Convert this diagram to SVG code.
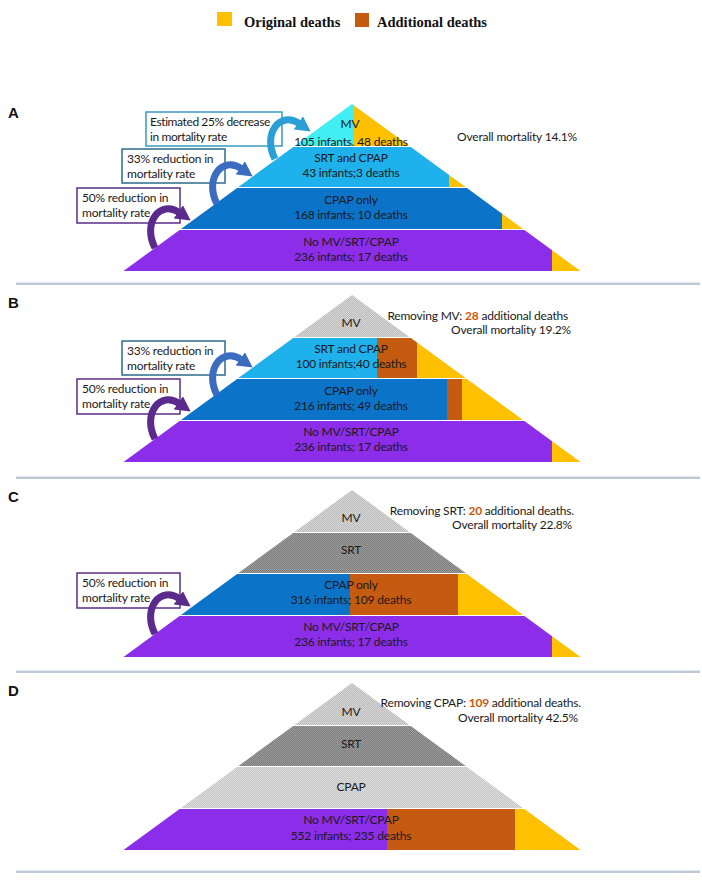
<svg xmlns="http://www.w3.org/2000/svg" width="702" height="880" viewBox="0 0 702 880">
<style>
.t{font-family:Lato,"Open Sans","DejaVu Sans",sans-serif;font-size:12px;fill:#1a1a1a;letter-spacing:-0.2px}
.c{text-anchor:middle}
.e{text-anchor:end}
.n{fill:#C65911;font-weight:bold}
.lg{font-family:"Liberation Serif","Times New Roman",serif;font-weight:bold;font-size:14.5px;fill:#111}
.pl{font-family:"Liberation Sans",Arial,sans-serif;font-weight:bold;font-size:15px;fill:#111}
.box{fill:#fff;stroke-width:1.5}
.div{stroke:#A9B6C8;stroke-width:1.5}
.divs{stroke:#E6EBF2;stroke-width:1.5}
.arr{fill:none;stroke-width:7;stroke-linecap:butt}
</style>
<defs>
<clipPath id="c1"><polygon points="352,104 409.5,146 294.5,146"/></clipPath>
<clipPath id="c2"><polygon points="293.2,147 410.8,147 465.6,187 238.4,187"/></clipPath>
<clipPath id="c3"><polygon points="237.1,188 466.9,188 523,229 181,229"/></clipPath>
<clipPath id="c4"><polygon points="179.6,230 524.4,230 580.5,271 123.5,271"/></clipPath>
<pattern id="gl" width="2" height="2" patternUnits="userSpaceOnUse"><rect width="2" height="2" fill="#D9D9D9"/><rect width="1" height="1" fill="#B9B9B9"/><rect x="1" y="1" width="1" height="1" fill="#B9B9B9"/></pattern>
<pattern id="gd" width="2" height="2" patternUnits="userSpaceOnUse"><rect width="2" height="2" fill="#9C9C9C"/><rect width="1" height="1" fill="#7C7C7C"/><rect x="1" y="1" width="1" height="1" fill="#7C7C7C"/></pattern>
<pattern id="gm" width="2" height="2" patternUnits="userSpaceOnUse"><rect width="2" height="2" fill="#DEDEDE"/><rect width="1" height="1" fill="#C4C4C4"/><rect x="1" y="1" width="1" height="1" fill="#C4C4C4"/></pattern>
<marker id="h1" viewBox="0 0 16 16" refX="2" refY="8" markerWidth="16" markerHeight="16" markerUnits="userSpaceOnUse" orient="auto"><path d="M0,0 L15,8 L0,16 z" fill="#2A9FD6"/></marker>
<marker id="h2" viewBox="0 0 16 16" refX="2" refY="8" markerWidth="16" markerHeight="16" markerUnits="userSpaceOnUse" orient="auto"><path d="M0,0 L15,8 L0,16 z" fill="#3C6CC0"/></marker>
<marker id="h3" viewBox="0 0 16 16" refX="2" refY="8" markerWidth="16" markerHeight="16" markerUnits="userSpaceOnUse" orient="auto"><path d="M0,0 L15,8 L0,16 z" fill="#5A2A8C"/></marker>
</defs>

<g id="legend">
<rect x="217" y="12" width="15" height="14" fill="#FFC000"/>
<text class="lg" x="244" y="27">Original deaths</text>
<rect x="355" y="13" width="14" height="14" fill="#C55A11"/>
<text class="lg" x="377" y="27">Additional deaths</text>
</g>

<g id="dividers">
<line class="divs" x1="16" y1="282.5" x2="700" y2="282.5"/>
<line class="div" x1="16" y1="284" x2="700" y2="284"/>
<line class="divs" x1="16" y1="476.5" x2="700" y2="476.5"/>
<line class="div" x1="16" y1="478" x2="700" y2="478"/>
<line class="divs" x1="16" y1="670.5" x2="700" y2="670.5"/>
<line class="div" x1="16" y1="672" x2="700" y2="672"/>
<line class="divs" x1="16" y1="870.5" x2="700" y2="870.5"/>
<line class="div" x1="16" y1="872" x2="700" y2="872"/>
</g>

<!-- Panel A -->
<g id="panelA">
<text class="pl" x="8" y="118">A</text>
<g id="A-mv">
<rect x="290" y="100" width="64" height="50" fill="#40EEF4" clip-path="url(#c1)"/>
<rect x="354" y="100" width="70" height="50" fill="#FFC000" clip-path="url(#c1)"/>
<text class="t c" x="350" y="128">MV</text>
<text class="t c" x="351" y="146">105 infants. 48 deaths</text>
</g>
<g id="A-srt">
<rect x="230" y="146" width="219" height="45" fill="#1EB1EC" clip-path="url(#c2)"/>
<rect x="449" y="146" width="30" height="45" fill="#FFC000" clip-path="url(#c2)"/>
<text class="t c" x="351" y="162">SRT and CPAP</text>
<text class="t c" x="351" y="177">43 infants;3 deaths</text>
</g>
<g id="A-cpap">
<rect x="175" y="187" width="327" height="45" fill="#0B73C8" clip-path="url(#c3)"/>
<rect x="502" y="187" width="30" height="45" fill="#FFC000" clip-path="url(#c3)"/>
<text class="t c" x="351" y="204">CPAP only</text>
<text class="t c" x="351" y="219">168 infants; 10 deaths</text>
</g>
<g id="A-none">
<rect x="120" y="229" width="432" height="45" fill="#8C2DEA" clip-path="url(#c4)"/>
<rect x="552" y="229" width="35" height="45" fill="#FFC000" clip-path="url(#c4)"/>
<text class="t c" x="351" y="246">No MV/SRT/CPAP</text>
<text class="t c" x="351" y="261">236 infants; 17 deaths</text>
</g>
<g id="A-box1">
<rect class="box" x="146" y="112" width="136" height="34" stroke="#3A9BC0"/>
<text class="t" x="150" y="126" style="letter-spacing:-0.4px">Estimated 25% decrease</text>
<text class="t" x="150" y="141" style="letter-spacing:-0.4px">in mortality rate</text>
</g>
<g id="A-box2">
<rect class="box" x="122" y="149" width="103" height="34" stroke="#2D6C8C"/>
<text class="t" x="127" y="163">33% reduction in</text>
<text class="t" x="127" y="178">mortality rate</text>
</g>
<g id="A-box3">
<rect class="box" x="77" y="188" width="103" height="35" stroke="#5C2C86"/>
<text class="t" x="82" y="202">50% reduction in</text>
<text class="t" x="82" y="217">mortality rate</text>
</g>
<g id="A-note">
<text class="t e" x="577" y="141">Overall mortality 14.1%</text>
</g>
<g id="A-connectors">
<path class="arr" stroke="#2A9FD6" marker-end="url(#h1)" d="M275,159 C262,134 280,110 300,124"/>
<path class="arr" stroke="#3C6CC0" marker-end="url(#h2)" d="M217,204 C204,179 222,155 242,169"/>
<path class="arr" stroke="#5A2A8C" marker-end="url(#h3)" d="M155,248 C142,223 160,199 180,213"/>
</g>
</g>

<!-- Panel B -->
<g id="panelB">
<text class="pl" x="8" y="308">B</text>
<g transform="translate(0,191)">
<g id="B-mv">
<rect x="290" y="100" width="130" height="50" fill="url(#gl)" clip-path="url(#c1)"/>
<text class="t c" x="351" y="136">MV</text>
</g>
<g id="B-srt">
<rect x="230" y="146" width="147" height="45" fill="#1EB1EC" clip-path="url(#c2)"/>
<rect x="377" y="146" width="40" height="45" fill="#C55A11" clip-path="url(#c2)"/>
<rect x="417" y="146" width="60" height="45" fill="#FFC000" clip-path="url(#c2)"/>
<text class="t c" x="351" y="162">SRT and CPAP</text>
<text class="t c" x="351" y="177">100 infants;40 deaths</text>
</g>
<g id="B-cpap">
<rect x="175" y="187" width="272" height="45" fill="#0B73C8" clip-path="url(#c3)"/>
<rect x="447" y="187" width="15" height="45" fill="#C55A11" clip-path="url(#c3)"/>
<rect x="462" y="187" width="70" height="45" fill="#FFC000" clip-path="url(#c3)"/>
<text class="t c" x="351" y="204">CPAP only</text>
<text class="t c" x="351" y="219">216 infants; 49 deaths</text>
</g>
<g id="B-none">
<rect x="120" y="229" width="432" height="45" fill="#8C2DEA" clip-path="url(#c4)"/>
<rect x="552" y="229" width="35" height="45" fill="#FFC000" clip-path="url(#c4)"/>
<text class="t c" x="351" y="245">No MV/SRT/CPAP</text>
<text class="t c" x="351" y="260">236 infants; 17 deaths</text>
</g>
<g id="B-box2">
<rect class="box" x="122" y="150" width="103" height="34" stroke="#2D6C8C"/>
<text class="t" x="127" y="164">33% reduction in</text>
<text class="t" x="127" y="179">mortality rate</text>
</g>
<g id="B-box3">
<rect class="box" x="77" y="188" width="103" height="35" stroke="#5C2C86"/>
<text class="t" x="82" y="202">50% reduction in</text>
<text class="t" x="82" y="217">mortality rate</text>
</g>
<g id="B-note">
<text class="t e" x="568" y="129">Removing MV: <tspan class="n">28</tspan> additional deaths</text>
<text class="t e" x="571" y="143">Overall mortality 19.2%</text>
</g>
<g id="B-connectors">
<path class="arr" stroke="#3C6CC0" marker-end="url(#h2)" d="M217,204 C204,179 222,155 242,169"/>
<path class="arr" stroke="#5A2A8C" marker-end="url(#h3)" d="M155,248 C142,223 160,199 180,213"/>
</g>
</g>
</g>

<!-- Panel C -->
<g id="panelC">
<text class="pl" x="8" y="502">C</text>
<g transform="translate(0,386)">
<g id="C-mv">
<rect x="290" y="100" width="130" height="50" fill="url(#gl)" clip-path="url(#c1)"/>
<text class="t c" x="351" y="136">MV</text>
</g>
<g id="C-srt">
<rect x="230" y="146" width="250" height="45" fill="url(#gd)" clip-path="url(#c2)"/>
<text class="t c" x="351" y="168">SRT</text>
</g>
<g id="C-cpap">
<rect x="175" y="187" width="175" height="45" fill="#0B73C8" clip-path="url(#c3)"/>
<rect x="350" y="187" width="108" height="45" fill="#C55A11" clip-path="url(#c3)"/>
<rect x="458" y="187" width="74" height="45" fill="#FFC000" clip-path="url(#c3)"/>
<text class="t c" x="351" y="203">CPAP only</text>
<text class="t c" x="351" y="218">316 infants; 109 deaths</text>
</g>
<g id="C-none">
<rect x="120" y="229" width="432" height="45" fill="#8C2DEA" clip-path="url(#c4)"/>
<rect x="552" y="229" width="35" height="45" fill="#FFC000" clip-path="url(#c4)"/>
<text class="t c" x="351" y="245">No MV/SRT/CPAP</text>
<text class="t c" x="351" y="260">236 infants; 17 deaths</text>
</g>
<g id="C-box3">
<rect class="box" x="77" y="187" width="103" height="35" stroke="#5C2C86"/>
<text class="t" x="82" y="201">50% reduction in</text>
<text class="t" x="82" y="216">mortality rate</text>
</g>
<g id="C-note">
<text class="t e" x="574" y="129">Removing SRT: <tspan class="n">20</tspan> additional deaths.</text>
<text class="t e" x="572" y="143">Overall mortality 22.8%</text>
</g>
<g id="C-connectors">
<path class="arr" stroke="#5A2A8C" marker-end="url(#h3)" d="M155,248 C142,223 160,199 180,213"/>
</g>
</g>
</g>

<!-- Panel D -->
<g id="panelD">
<text class="pl" x="8" y="696">D</text>
<g transform="translate(0,579)">
<g id="D-mv">
<rect x="290" y="100" width="130" height="50" fill="url(#gl)" clip-path="url(#c1)"/>
<text class="t c" x="351" y="137">MV</text>
</g>
<g id="D-srt">
<rect x="230" y="146" width="250" height="45" fill="url(#gd)" clip-path="url(#c2)"/>
<text class="t c" x="351" y="169">SRT</text>
</g>
<g id="D-cpap">
<rect x="175" y="187" width="360" height="45" fill="url(#gm)" clip-path="url(#c3)"/>
<text class="t c" x="351" y="212">CPAP</text>
</g>
<g id="D-none">
<rect x="120" y="229" width="267" height="45" fill="#8C2DEA" clip-path="url(#c4)"/>
<rect x="387" y="229" width="128" height="45" fill="#C55A11" clip-path="url(#c4)"/>
<rect x="515" y="229" width="72" height="45" fill="#FFC000" clip-path="url(#c4)"/>
<text class="t c" x="351" y="245">No MV/SRT/CPAP</text>
<text class="t c" x="351" y="261">552 infants; 235 deaths</text>
</g>
<g id="D-note">
<text class="t e" x="581" y="128">Removing CPAP: <tspan class="n">109</tspan> additional deaths.</text>
<text class="t e" x="578" y="143">Overall mortality 42.5%</text>
</g>
</g>
</g>
</svg>
